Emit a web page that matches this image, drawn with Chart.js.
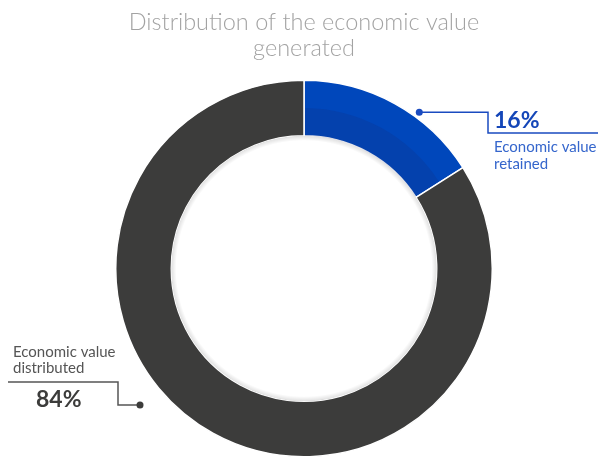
<!DOCTYPE html>
<html>
<head>
<meta charset="utf-8">
<script src="https://cdn.jsdelivr.net/npm/chart.js@4.4.0/dist/chart.umd.min.js"></script>
<style>
  html, body { margin: 0; padding: 0; background: #fff; }
  #wrap { width: 598px; height: 459px; position: relative; }
</style>
</head>
<body>
<div id="wrap"><canvas id="chart" width="598" height="459"></canvas></div>
<script>
// données du graphique
const categories = ['Economic value retained', 'Economic value distributed'];
const shares = [16, 84];
const shareLabels = ['16%', '84%'];
const titleLines = ['Distribution of the economic value', 'generated'];

const blue = '#0047bb';
const grey = '#3c3c3b';

// ombre interne + bande plus foncée sur le segment bleu
const shadePlugin = {
    id: 'shade',
    afterDatasetDraw(chart) {
        const ctx = chart.ctx;
        const arcs = chart.getDatasetMeta(0).data;
        const a = arcs[0];
        const mid = (a.innerRadius + a.outerRadius) / 2;
        ctx.save();
        // bande foncée
        const off = 1.2 / mid;
        ctx.fillStyle = 'rgba(20, 40, 110, 0.18)';
        ctx.beginPath();
        ctx.arc(a.x, a.y, mid, a.startAngle + off, a.endAngle - off);
        ctx.arc(a.x, a.y, a.innerRadius, a.endAngle - 1.2 / a.innerRadius, a.startAngle + 1.2 / a.innerRadius, true);
        ctx.closePath();
        ctx.fill();
        // ombre légère dans le trou
        const g = ctx.createRadialGradient(a.x, a.y, a.innerRadius - 5, a.x, a.y, a.innerRadius);
        g.addColorStop(0, 'rgba(0,0,0,0)');
        g.addColorStop(1, 'rgba(0,0,0,0.12)');
        ctx.fillStyle = g;
        ctx.beginPath();
        ctx.arc(a.x, a.y, a.innerRadius, 0, Math.PI * 2);
        ctx.arc(a.x, a.y, a.innerRadius - 5, 0, Math.PI * 2, true);
        ctx.fill();
        ctx.restore();
    }
};

// plugin pour le titre et les annotations
const labelsPlugin = {
    id: 'labels',
    afterDraw(chart) {
        const ctx = chart.ctx;
        const arc = chart.getDatasetMeta(0).data[0];
        const cx = arc.x, cy = arc.y, r = arc.outerRadius;
        ctx.save();

        // titre
        ctx.fillStyle = '#a3a3a3';
        ctx.font = '300 23.5px Lato';
        ctx.textAlign = 'center';
        ctx.textBaseline = 'middle';
        ctx.fillText(titleLines[0], 304, 22);
        ctx.fillText(titleLines[1], 304, 48);

        // annotation 16%
        const a1 = 36.4 * Math.PI / 180;
        const d1x = cx + (r + 6) * Math.sin(a1);
        const d1y = cy - (r + 6) * Math.cos(a1);
        ctx.strokeStyle = '#1a4bc0';
        ctx.lineWidth = 1.5;
        ctx.beginPath();
        ctx.moveTo(d1x, d1y);
        ctx.lineTo(488, d1y);
        ctx.lineTo(488, 133);
        ctx.lineTo(598, 133);
        ctx.stroke();
        ctx.fillStyle = '#1a4bc0';
        ctx.beginPath();
        ctx.arc(d1x, d1y, 3.5, 0, Math.PI * 2);
        ctx.fill();

        ctx.textAlign = 'left';
        ctx.fillStyle = '#1446b8';
        ctx.font = 'bold 23px Lato';
        ctx.fillText(shareLabels[0], 494, 121);
        ctx.fillStyle = '#3566cc';
        ctx.font = '15px Lato';
        ctx.fillText('Economic value', 494, 147);
        ctx.fillText('retained', 494, 164);

        // annotation 84%
        ctx.strokeStyle = '#555555';
        ctx.beginPath();
        ctx.moveTo(8, 382);
        ctx.lineTo(118, 382);
        ctx.lineTo(118, 405);
        ctx.lineTo(140, 405);
        ctx.stroke();
        ctx.fillStyle = '#3c3c3b';
        ctx.beginPath();
        ctx.arc(140, 405, 3.5, 0, Math.PI * 2);
        ctx.fill();

        ctx.fillStyle = '#3c3c3b';
        ctx.font = 'bold 23px Lato';
        ctx.fillText(shareLabels[1], 36, 400);
        ctx.fillStyle = '#555555';
        ctx.font = '15px Lato';
        ctx.fillText('Economic value', 13, 352);
        ctx.fillText('distributed', 13, 368);

        ctx.restore();
    }
};

new Chart(document.getElementById('chart'), {
    type: 'doughnut',
    data: {
        labels: categories,
        datasets: [{
            data: shares,
            backgroundColor: [blue, grey],
            borderColor: '#ffffff',
            borderWidth: 1.5
        }]
    },
    options: {
        responsive: false,
        animation: false,
        cutout: '70.5%',
        layout: { padding: { left: 115, right: 105, top: 79.5, bottom: 1.5 } },
        plugins: {
            legend: { display: false },
            title: { display: false },
            tooltip: { enabled: false }
        }
    },
    plugins: [shadePlugin, labelsPlugin]
});
</script>
</body>
</html>
